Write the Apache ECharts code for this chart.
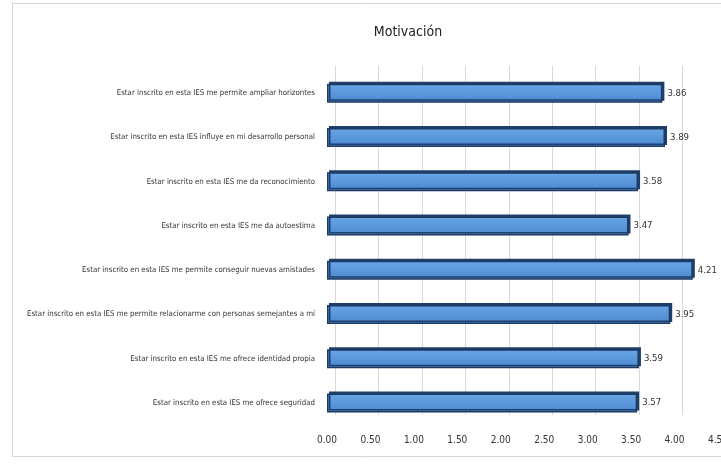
<!DOCTYPE html>
<html>
<head>
<meta charset="utf-8">
<script src="https://cdn.jsdelivr.net/npm/echarts@6/dist/echarts.min.js"></script>
<style>html,body{margin:0;padding:0;background:#fff;overflow:hidden}#c{width:721px;height:465px}</style>
</head>
<body>
<div id="c"></div>
<script>
const categories = [
  "Estar inscrito en esta IES me permite ampliar horizontes",
  "Estar inscrito en esta IES influye en mi desarrollo personal",
  "Estar inscrito en esta IES me da reconocimiento",
  "Estar inscrito en esta IES me da autoestima",
  "Estar inscrito en esta IES me permite conseguir nuevas amistades",
  "Estar inscrito en esta IES me permite relacionarme con personas semejantes a mí",
  "Estar inscrito en esta IES me ofrece identidad propia",
  "Estar inscrito en esta IES me ofrece seguridad"
];
const values = [3.86, 3.89, 3.58, 3.47, 4.21, 3.95, 3.59, 3.57];
const titleText = "Motivación";
const FONT = "'DejaVu Sans Condensed', 'Liberation Sans Narrow', 'Liberation Sans', sans-serif";

const chart = echarts.init(document.getElementById('c'), null, {renderer: 'canvas'});
chart.setOption({
  animation: false,
  backgroundColor: '#ffffff',
  title: {
    text: titleText, left: 403, top: 20, textAlign: 'center',
    textStyle: {fontFamily: FONT, fontSize: 14, fontWeight: 'normal', color: '#222'}
  },
  graphic: [{
    type: 'rect', shape: {x: 12.5, y: 3.5, width: 720, height: 453},
    style: {fill: 'none', stroke: '#d4d4d4', lineWidth: 1}, silent: true
  }],
  grid: [
    {left: 327, right: 3, top: 71, bottom: 40, containLabel: false, outerBoundsMode: 'none'},
    {left: 335, width: 391, top: 66, bottom: 50, containLabel: false, outerBoundsMode: 'none'}
  ],
  xAxis: [{
    type: 'value', min: 0, max: 4.5, interval: 0.5, gridIndex: 0,
    axisLine: {show: false}, axisTick: {show: false},
    splitLine: {show: false},
    axisLabel: {fontFamily: FONT, fontSize: 10, color: '#333', margin: 10,
      formatter: v => v.toFixed(2)}
  }, {
    type: 'value', min: 0, max: 4.5, interval: 0.5, gridIndex: 1,
    axisLine: {show: false}, axisTick: {show: false}, axisLabel: {show: false},
    splitLine: {lineStyle: {color: '#d9d9d9', width: 1}}, z: 0
  }],
  yAxis: [{
    type: 'category', data: categories, inverse: true, gridIndex: 0,
    axisLine: {show: false}, axisTick: {show: false},
    axisLabel: {fontFamily: FONT, fontSize: 7.8, color: '#333', margin: 12}
  }, {
    type: 'category', data: categories, gridIndex: 1, show: false
  }],
  series: [{
    type: 'bar', data: values, barWidth: 19, xAxisIndex: 0, yAxisIndex: 0,
    itemStyle: {
      color: {type: 'linear', x: 0, y: 0, x2: 0, y2: 1, colorStops: [
        {offset: 0, color: '#6aa6e6'}, {offset: 1, color: '#4a88d0'}]},
      borderColor: '#1c3a63', borderWidth: 1.5,
      shadowColor: '#1f3f6a', shadowOffsetX: 2, shadowOffsetY: -2, shadowBlur: 0
    },
    label: {
      show: true, position: 'right', distance: 5,
      fontFamily: FONT, fontSize: 9.5, color: '#333',
      formatter: p => p.value.toFixed(2)
    }
  }]
});
</script>
</body>
</html>
